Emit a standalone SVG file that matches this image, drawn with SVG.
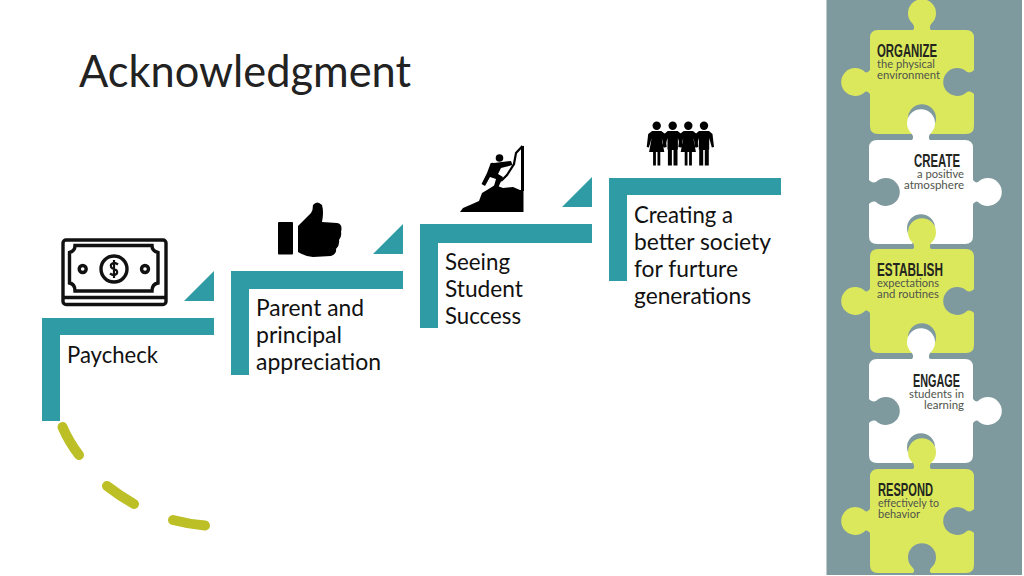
<svg xmlns="http://www.w3.org/2000/svg" xmlns:xlink="http://www.w3.org/1999/xlink" width="1024" height="576" viewBox="0 0 1024 576">
<style>
.teal{fill:#2F9BA4}
.body{font-family:Lato,"Open Sans",sans-serif;font-size:24px;fill:#111}
.title{font-family:Lato,"Open Sans",sans-serif;font-size:44px;fill:#222}
.head{font-family:"Liberation Sans Narrow","Liberation Sans",sans-serif;font-weight:700;font-size:18.500px;fill:#23261f}
.sub{font-family:Lato,"Open Sans",sans-serif;font-weight:400;font-size:11.500px;fill:#4f544b}
.dash{fill:none;stroke:#BDBF26;stroke-width:10;stroke-linecap:round}
.green{fill:#DCE85C}
.white{fill:#fff}
.ink{fill:#000}
.line{fill:none;stroke:#111;stroke-width:3.400}
</style>
<defs>
<path id="piece" d="M8 0H43C45-2 44-5 42-7A14 14 0 1 1 62-7C60-5 59-2 61 0H96Q104 0 104 8V40C102 42 100 43 97 42A14 14 0 1 0 97 62C100 61 102 62 104 64V96Q104 104 96 104H61C59 102 60 100 62 98A14 14 0 1 0 42 98C44 100 45 102 43 104H8Q0 104 0 96V64C-2 62-3 61-5 62A14 14 0 1 1-5 42C-3 43-2 42 0 40V8Q0 0 8 0Z"/>
<g id="man"><circle cx="0" cy="125.800" r="4.200"/><path d="M-5 131H5L8.500 134 10 147 7.800 147.600 5.200 138V149.500H4.800V165.500H.8V150H-.8V165.500H-4.800V149.500H-5.200V138L-7.800 147.600-10 147-8.500 134Z"/></g>
<g id="woman"><circle cx="0" cy="125.800" r="4.200"/><path d="M-4.600 131H4.600L8.500 134 10 147 7.800 147.600 5 138 7.600 152H3.600V165.500H.8V152H-.8V165.500H-3.600V152H-7.600L-5 138-7.800 147.600-10 147-8.500 134Z"/></g>
</defs>
<rect width="1024" height="576" fill="#fff"/>
<rect x="826.500" y="0" width="195.500" height="575" fill="#7F9A9E"/>

<g id="connectors">
<path class="dash" d="M47 352L47 370"/>
<path class="dash" d="M62.500 427Q69 442 79 455"/>
<path class="dash" d="M107 486Q120 496 134 504"/>
<path class="dash" d="M173 520Q188 524 205 525.500"/>
</g>

<text class="title" x="79" y="87" textLength="332" lengthAdjust="spacingAndGlyphs">Acknowledgment</text>

<g id="step-paycheck">
<path class="teal" d="M42 318H214V335H60V421H42Z"/>
<path class="teal" d="M184 301H214V271Z"/>
<text class="body" x="67" y="363" textLength="91" lengthAdjust="spacingAndGlyphs">Paycheck</text>
<g id="icon-money">
<rect x="63" y="240" width="103" height="64.500" rx="3" class="line"/>
<path class="line" d="M63 297.500H166"/>
<path class="line" d="M75 245.500H152Q152 251 158 252.500V283Q152 284 152 291H75Q75 284 69.500 283V252.500Q75 251 75 245.500Z"/>
<circle cx="114" cy="269" r="13" class="line"/>
<circle cx="82.700" cy="269" r="3.500" class="line"/>
<circle cx="145" cy="269" r="3.500" class="line"/>
<path d="M118 264.500Q114 261.500 111 264.500Q110 268 114 269Q118 270 117 273.500Q114 276.500 110 273.500M114 260V278" fill="none" stroke="#111" stroke-width="2.200"/>
</g>
</g>

<g id="step-parent">
<path class="teal" d="M231 271H403V289H249V375H231Z"/>
<path class="teal" d="M373 254H403V224Z"/>
<text class="body" x="256" y="316" textLength="108" lengthAdjust="spacingAndGlyphs">Parent and</text>
<text class="body" x="256" y="343" textLength="86" lengthAdjust="spacingAndGlyphs">principal</text>
<text class="body" x="256" y="370" textLength="125" lengthAdjust="spacingAndGlyphs">appreciation</text>
<g id="icon-thumb" class="ink">
<rect x="278" y="222" width="15" height="32.500" rx="1"/>
<path d="M298 226L311 213Q313 210 313 205Q317 200 322 205Q324 212 322 222L337 223Q343 224 341 232Q342 236 339 240Q340 245 336 249Q337 254 331 256L313 257Q304 256 298 252Z"/>
</g>
</g>

<g id="step-seeing">
<path class="teal" d="M420 224H592V243H438V328H420Z"/>
<path class="teal" d="M562 207H592V177Z"/>
<text class="body" x="445" y="270" textLength="65" lengthAdjust="spacingAndGlyphs">Seeing</text>
<text class="body" x="445" y="297" textLength="78" lengthAdjust="spacingAndGlyphs">Student</text>
<text class="body" x="445" y="324" textLength="76" lengthAdjust="spacingAndGlyphs">Success</text>
<g id="icon-climber">
<path class="ink" d="M460 212L463 208 470 205 479 201 482 193 487 190 495 185 503 188 513 187 520 190H523.500V212Z"/>
<path d="M522.500 146L516 153 514 164 507 175 501 181" fill="none" stroke="#000" stroke-width="2.200"/>
<path d="M522.500 146V191" fill="none" stroke="#000" stroke-width="3"/>
<circle class="ink" cx="499.500" cy="158" r="3.800"/>
<path class="ink" d="M490 165Q490 162 494 163L511 161 512.500 165 501 168 498 174 503 177 498 188 494 186 496 179 490 177 485 186 481.500 184 487 173Z"/>
</g>
</g>

<g id="step-creating">
<path class="teal" d="M609 178H781V195H627V281H609Z"/>
<text class="body" x="634" y="223" textLength="99" lengthAdjust="spacingAndGlyphs">Creating a</text>
<text class="body" x="634" y="250" textLength="137" lengthAdjust="spacingAndGlyphs">better society</text>
<text class="body" x="634" y="277" textLength="104" lengthAdjust="spacingAndGlyphs">for furture</text>
<text class="body" x="634" y="304" textLength="117" lengthAdjust="spacingAndGlyphs">generations</text>
<g id="icon-people" class="ink">
<use xlink:href="#woman" href="#woman" transform="translate(656.700 0)"/>
<use xlink:href="#man" href="#man" transform="translate(672.700 0)"/>
<use xlink:href="#woman" href="#woman" transform="translate(688.300 0)"/>
<use xlink:href="#man" href="#man" transform="translate(704 0)"/>
</g>
</g>

<g id="piece-organize">
<use xlink:href="#piece" href="#piece" class="green" transform="translate(870 30)"/>
<text class="head" x="877" y="57" textLength="60" lengthAdjust="spacingAndGlyphs">ORGANIZE</text>
<text class="sub" x="877" y="68" textLength="58" lengthAdjust="spacingAndGlyphs">the physical</text>
<text class="sub" x="877" y="79" textLength="63" lengthAdjust="spacingAndGlyphs">environment</text>
</g>
<g id="piece-create">
<use xlink:href="#piece" href="#piece" class="white" transform="translate(973 140) scale(-1 1)"/>
<text class="head" x="914" y="167" textLength="46" lengthAdjust="spacingAndGlyphs">CREATE</text>
<text class="sub" x="917" y="178" textLength="47" lengthAdjust="spacingAndGlyphs">a positive</text>
<text class="sub" x="904" y="189" textLength="60" lengthAdjust="spacingAndGlyphs">atmosphere</text>
</g>
<g id="piece-establish">
<use xlink:href="#piece" href="#piece" class="green" transform="translate(870 249)"/>
<text class="head" x="877" y="276" textLength="66" lengthAdjust="spacingAndGlyphs">ESTABLISH</text>
<text class="sub" x="877" y="287" textLength="62" lengthAdjust="spacingAndGlyphs">expectations</text>
<text class="sub" x="877" y="298" textLength="62" lengthAdjust="spacingAndGlyphs">and routines</text>
</g>
<g id="piece-engage">
<use xlink:href="#piece" href="#piece" class="white" transform="translate(973 359) scale(-1 1)"/>
<text class="head" x="913" y="387" textLength="47" lengthAdjust="spacingAndGlyphs">ENGAGE</text>
<text class="sub" x="909" y="398" textLength="55" lengthAdjust="spacingAndGlyphs">students in</text>
<text class="sub" x="924" y="408.500" textLength="40" lengthAdjust="spacingAndGlyphs">learning</text>
</g>
<g id="piece-respond">
<use xlink:href="#piece" href="#piece" class="green" transform="translate(870 469)"/>
<text class="head" x="878" y="496" textLength="55" lengthAdjust="spacingAndGlyphs">RESPOND</text>
<text class="sub" x="878" y="507" textLength="61" lengthAdjust="spacingAndGlyphs">effectively to</text>
<text class="sub" x="878" y="518" textLength="42" lengthAdjust="spacingAndGlyphs">behavior</text>
</g>
</svg>
